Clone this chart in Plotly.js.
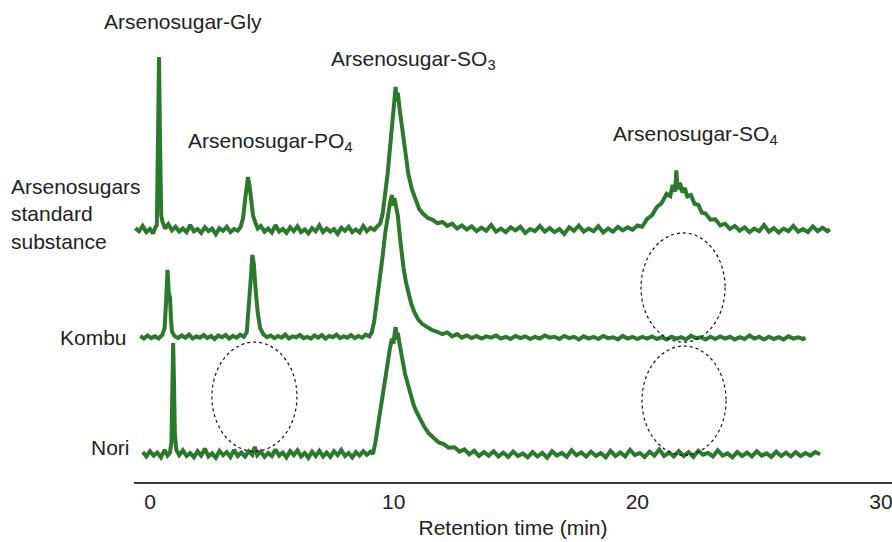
<!DOCTYPE html>
<html>
<head>
<meta charset="utf-8">
<script src="https://cdn.plot.ly/plotly-3.0.1.min.js"></script>
<style>html,body{margin:0;padding:0;background:#fff;}#chart{width:892px;height:542px;}</style>
</head>
<body>
<div id="chart"></div>
<script>
// Retention time (min) and signal (arbitrary units, traces stacked)
var stdTime = [-0.6,-0.45,-0.3,-0.15,0.0,0.12,0.22,0.28,0.32,0.37,0.41,0.46,0.52,0.62,0.75,0.9,1.05,1.2,1.35,1.5,1.65,1.8,1.95,2.1,2.25,2.4,2.55,2.7,2.85,3.0,3.15,3.3,3.45,3.6,3.72,3.82,3.9,3.97,4.02,4.08,4.15,4.23,4.32,4.42,4.55,4.7,4.85,5.0,5.15,5.3,5.45,5.6,5.75,5.9,6.05,6.2,6.35,6.5,6.65,6.8,6.95,7.1,7.25,7.4,7.55,7.7,7.85,8.0,8.15,8.3,8.45,8.6,8.75,8.9,9.05,9.2,9.35,9.45,9.55,9.65,9.75,9.85,9.95,10.03,10.08,10.12,10.17,10.25,10.35,10.47,10.6,10.75,10.9,11.05,11.2,11.4,11.6,11.8,12.0,12.2,12.4,12.6,12.8,13.0,13.2,13.4,13.6,13.8,14.0,14.2,14.4,14.6,14.8,15.0,15.2,15.4,15.6,15.8,16.0,16.2,16.4,16.6,16.8,17.0,17.2,17.4,17.6,17.8,18.0,18.2,18.4,18.6,18.8,19.0,19.2,19.4,19.6,19.8,20.0,20.2,20.4,20.6,20.8,21.0,21.2,21.35,21.45,21.55,21.6,21.65,21.75,21.85,21.95,22.05,22.2,22.35,22.5,22.65,22.8,23.0,23.2,23.4,23.6,23.8,24.0,24.2,24.4,24.6,24.8,25.0,25.2,25.4,25.6,25.8,26.0,26.2,26.4,26.6,26.8,27.0,27.2,27.4,27.6,27.8,27.9];
var stdSignal = [57.7,57.0,58.2,56.8,57.5,56.5,57.8,58.4,75.0,96.6,78.0,60.5,59.0,57.6,58.6,57.2,58.0,56.9,57.6,56.8,58.4,57.0,57.5,56.6,57.9,57.0,57.6,56.3,57.7,57.1,58.0,56.8,57.5,57.1,58.0,60.0,64.0,68.0,69.3,67.5,63.5,60.5,59.0,57.6,58.2,56.9,57.6,56.7,58.4,56.9,57.5,56.6,57.9,57.0,58.1,56.8,57.4,56.5,57.7,57.0,58.3,56.8,57.6,56.9,57.5,56.4,57.8,57.1,58.0,56.8,57.4,56.7,58.2,57.0,57.8,57.3,58.2,58.8,61.0,65.0,70.0,76.0,82.5,87.0,89.8,86.5,88.5,84.5,80.0,74.5,70.0,66.5,64.0,62.0,61.0,60.0,59.6,58.8,59.1,58.2,58.7,57.6,58.3,57.4,58.1,57.0,57.8,57.1,58.4,56.9,57.6,56.8,57.9,57.2,58.0,56.6,57.5,57.0,58.2,56.9,57.7,56.8,57.5,56.4,57.9,57.1,58.3,56.9,57.6,57.0,58.1,56.7,57.6,56.9,58.0,57.2,57.9,57.3,58.3,58.0,59.8,60.6,62.5,63.4,65.5,65.0,67.5,66.0,70.8,66.5,68.0,65.8,66.8,64.9,65.2,63.2,63.0,61.2,61.0,59.6,59.7,58.3,58.7,57.5,58.2,57.1,57.9,56.8,57.6,57.0,58.4,56.9,57.7,56.7,57.6,57.0,58.2,56.9,57.5,56.8,58.1,57.0,57.8,57.0,57.4];

var kombuTime = [-0.4,-0.25,-0.1,0.05,0.2,0.35,0.5,0.6,0.66,0.72,0.77,0.82,0.86,0.9,1.0,1.15,1.3,1.45,1.6,1.75,1.9,2.05,2.2,2.35,2.5,2.65,2.8,2.95,3.1,3.25,3.4,3.55,3.7,3.85,3.97,4.06,4.14,4.2,4.26,4.33,4.42,4.52,4.65,4.8,4.95,5.1,5.25,5.4,5.55,5.7,5.85,6.0,6.15,6.3,6.45,6.6,6.75,6.9,7.05,7.2,7.35,7.5,7.65,7.8,7.95,8.1,8.25,8.4,8.55,8.7,8.85,9.0,9.1,9.2,9.3,9.43,9.55,9.65,9.75,9.85,9.93,9.98,10.03,10.1,10.17,10.25,10.32,10.4,10.5,10.6,10.72,10.85,11.0,11.15,11.35,11.55,11.75,12.0,12.2,12.4,12.6,12.8,13.0,13.2,13.4,13.6,13.8,14.0,14.2,14.4,14.6,14.8,15.0,15.2,15.4,15.6,15.8,16.0,16.2,16.4,16.6,16.8,17.0,17.2,17.4,17.6,17.8,18.0,18.2,18.4,18.6,18.8,19.0,19.2,19.4,19.6,19.8,20.0,20.2,20.4,20.6,20.8,21.0,21.2,21.4,21.6,21.8,22.0,22.2,22.4,22.6,22.8,23.0,23.2,23.4,23.6,23.8,24.0,24.2,24.4,24.6,24.8,25.0,25.2,25.4,25.6,25.8,26.0,26.2,26.4,26.6,26.8,26.9];
var kombuSignal = [33.2,32.6,33.3,32.7,33.1,32.6,33.4,35.0,41.0,48.2,43.0,42.0,37.0,34.2,33.2,32.7,33.3,32.8,33.5,32.6,33.1,32.8,33.4,32.7,33.2,32.5,33.3,32.9,33.4,32.6,33.2,32.8,33.5,33.0,34.0,39.5,46.5,51.6,49.5,44.0,38.5,35.0,33.6,32.9,33.3,32.7,33.2,32.8,33.5,32.6,33.1,32.9,33.4,32.7,33.0,32.6,33.3,32.8,33.4,32.6,33.2,32.9,33.5,32.7,33.1,32.8,33.4,32.7,33.2,32.8,33.5,33.1,34.0,36.5,40.5,46.0,51.5,56.5,60.5,63.5,65.2,62.8,64.5,62.5,60.5,56.0,52.0,48.8,45.5,43.0,40.5,38.6,37.0,36.0,35.2,34.6,34.2,33.6,34.0,33.1,33.6,32.8,33.3,32.7,33.2,32.6,33.1,32.8,33.3,32.6,33.0,32.5,33.2,32.7,33.1,32.5,33.0,32.6,33.3,32.8,33.0,32.5,33.2,32.7,33.0,32.4,33.1,32.6,33.0,32.5,33.2,32.7,32.9,32.4,33.2,32.6,33.0,32.5,33.0,32.6,33.1,32.5,32.9,32.4,33.0,32.6,32.9,32.4,33.2,32.7,32.9,32.4,33.0,32.5,33.1,32.6,33.0,32.4,32.9,32.5,33.3,32.6,33.0,32.4,33.0,32.5,32.9,32.4,33.1,32.6,32.9,32.5,32.8];

var noriTime = [-0.3,-0.15,0.0,0.15,0.3,0.45,0.6,0.72,0.82,0.88,0.92,0.95,0.98,1.02,1.08,1.2,1.35,1.5,1.65,1.8,1.95,2.1,2.25,2.4,2.55,2.7,2.85,3.0,3.15,3.3,3.45,3.6,3.75,3.9,4.05,4.2,4.3,4.4,4.55,4.7,4.85,5.0,5.15,5.3,5.45,5.6,5.75,5.9,6.05,6.2,6.35,6.5,6.65,6.8,6.95,7.1,7.25,7.4,7.55,7.7,7.85,8.0,8.15,8.3,8.45,8.6,8.75,8.9,9.05,9.15,9.25,9.35,9.45,9.55,9.65,9.75,9.85,9.93,9.99,10.04,10.08,10.12,10.17,10.23,10.3,10.38,10.47,10.58,10.7,10.82,10.95,11.1,11.25,11.45,11.65,11.85,12.05,12.25,12.5,12.7,12.9,13.1,13.3,13.5,13.7,13.9,14.1,14.3,14.5,14.7,14.9,15.1,15.3,15.5,15.7,15.9,16.1,16.3,16.5,16.7,16.9,17.1,17.3,17.5,17.7,17.9,18.1,18.3,18.5,18.7,18.9,19.1,19.3,19.5,19.7,19.9,20.1,20.3,20.5,20.7,20.9,21.1,21.3,21.5,21.7,21.9,22.1,22.3,22.5,22.7,22.9,23.1,23.3,23.5,23.7,23.9,24.1,24.3,24.5,24.7,24.9,25.1,25.3,25.5,25.7,25.9,26.1,26.3,26.5,26.7,26.9,27.1,27.3,27.5];
var noriSignal = [6.8,5.8,7.0,6.0,6.7,5.6,7.3,6.0,6.7,9.0,22.0,31.6,24.0,11.0,7.3,6.1,7.2,5.9,6.6,5.6,7.0,6.0,7.6,5.8,6.5,5.5,7.1,6.1,6.8,5.7,7.3,5.9,6.7,5.8,7.0,6.2,8.0,6.1,6.9,5.7,6.6,5.9,7.4,6.0,6.7,5.6,7.0,6.1,7.2,5.8,6.6,5.5,6.9,5.9,7.1,5.8,6.7,5.7,7.0,6.1,7.3,5.9,6.6,5.6,6.8,6.0,7.0,6.2,6.9,6.4,9.0,12.8,16.5,20.0,23.8,27.0,30.5,32.6,31.5,33.8,35.2,32.4,33.9,31.8,30.0,27.2,24.5,22.0,20.0,17.5,15.8,14.0,12.6,11.0,10.0,9.0,8.6,7.8,7.9,6.9,7.4,6.3,7.1,5.9,6.8,6.0,7.0,5.8,6.7,5.7,6.9,5.9,6.5,5.6,6.8,5.8,6.6,5.5,7.0,6.0,6.6,5.7,7.2,6.1,6.7,5.8,6.9,5.9,6.6,5.6,7.1,5.9,6.7,5.8,7.3,6.1,6.6,5.7,6.9,6.0,7.4,5.9,6.7,5.8,7.0,5.9,6.8,5.7,7.1,6.2,6.6,5.8,7.2,6.0,6.5,5.6,6.8,5.9,6.7,5.8,7.0,6.0,6.5,5.7,6.9,5.9,6.7,5.8,6.8,5.9,6.6,6.0,6.8,6.3];

var xTickVals = [0, 10, 20, 30];
var xTickText = ['0', '10', '20', '30'];

var green = '#2b7a2b';
var font = 'Liberation Sans, Arial, Helvetica, sans-serif';

function trace(x, y, name) {
  return {x: x, y: y, name: name, type: 'scatter', mode: 'lines',
          line: {color: green, width: 4}, hoverinfo: 'skip'};
}

var data = [
  trace(stdTime, stdSignal, 'Arsenosugars standard substance'),
  trace(kombuTime, kombuSignal, 'Kombu'),
  trace(noriTime, noriSignal, 'Nori')
];

function ell(x0, x1, y0, y1) {
  return {type: 'circle', xref: 'x', yref: 'y', x0: x0, x1: x1, y0: y0, y1: y1,
          line: {color: '#111', width: 1.2, dash: 'dot'}};
}

function ann(text, x, y, xanchor) {
  return {text: text, xref: 'paper', yref: 'paper', x: x, y: y, xanchor: xanchor,
          yanchor: 'middle', showarrow: false, align: 'left',
          font: {family: font, size: 21, color: '#222'}};
}

var layout = {
  width: 892, height: 542,
  margin: {l: 134, r: 0, t: 42, b: 60},
  paper_bgcolor: '#fff', plot_bgcolor: '#fff',
  showlegend: false,
  xaxis: {
    range: [-0.657, 30.45], showgrid: false, zeroline: false,
    showline: true, linecolor: '#3a3a3a', linewidth: 1.6,
    tickvals: xTickVals, ticktext: xTickText,
    ticks: '', ticklabeloverflow: 'allow',
    tickfont: {family: font, size: 21, color: '#222'},
    title: {text: 'Retention time (min)', font: {family: font, size: 21, color: '#222'}, standoff: 8}
  },
  yaxis: {range: [0, 100], visible: false},
  shapes: [
    ell(20.15, 23.6, 31.8, 56.6),
    ell(20.19, 23.64, 6.1, 30.9),
    ell(2.54, 6.03, 7.0, 31.8)
  ],
  annotations: [
    ann('Arsenosugar-Gly', -0.0422, 1.0455, 'left'),
    ann('Arsenosugar-SO<sub>3</sub>', 0.2573, 0.959, 'left'),
    ann('Arsenosugar-PO<sub>4</sub>', 0.0686, 0.7727, 'left'),
    ann('Arsenosugar-SO<sub>4</sub>', 0.6293, 0.7886, 'left'),
    ann('Arsenosugars<br>standard<br>substance', -0.1649, 0.609, 'left'),
    ann('Kombu', -0.0066, 0.3295, 'right'),
    ann('Nori', -0.0026, 0.0795, 'right')
  ]
};

Plotly.newPlot('chart', data, layout, {displayModeBar: false, staticPlot: true});
</script>
</body>
</html>
